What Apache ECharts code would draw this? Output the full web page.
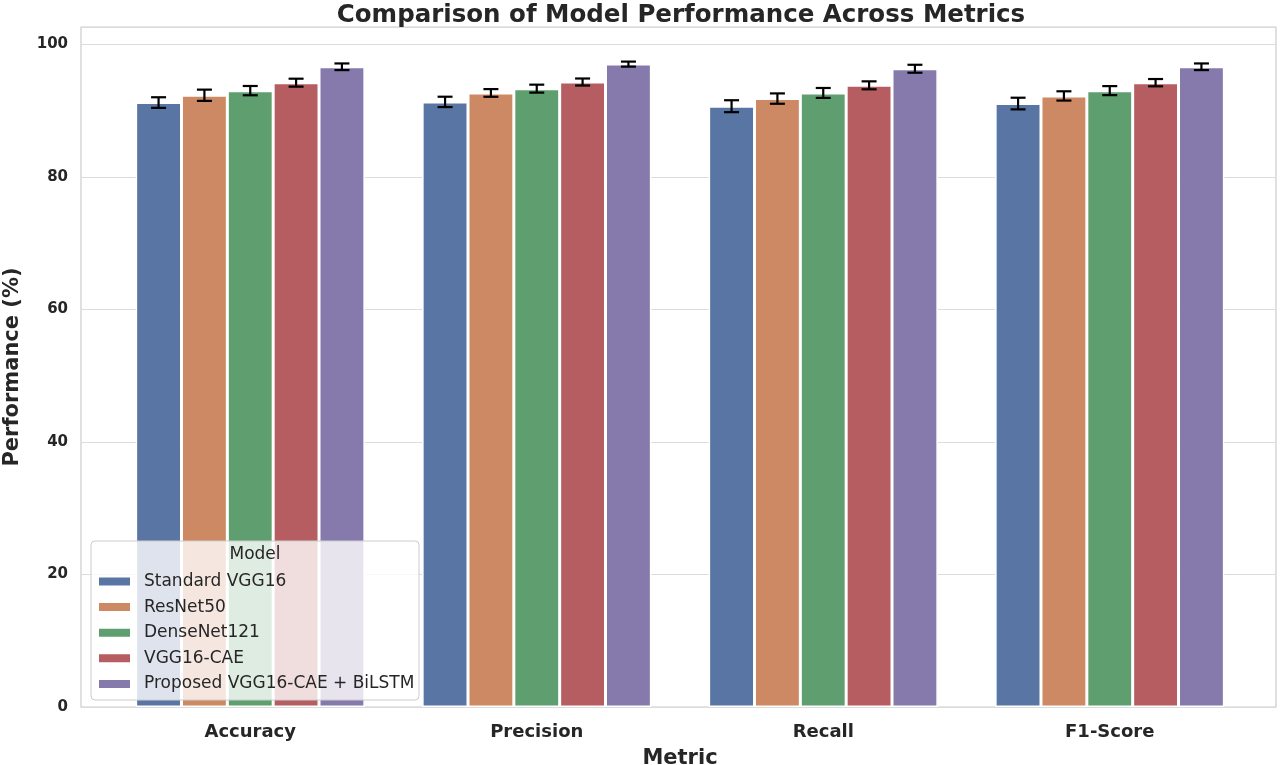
<!DOCTYPE html>
<html>
<head>
<meta charset="utf-8">
<script src="https://cdn.jsdelivr.net/npm/echarts@6/dist/echarts.min.js"></script>
<style>html,body{margin:0;padding:0;background:#fff}#c{width:1280px;height:765px}</style>
</head>
<body>
<div id="c"></div>
<script>
const categories = ['Accuracy', 'Precision', 'Recall', 'F1-Score'];
const models = ['Standard VGG16', 'ResNet50', 'DenseNet121', 'VGG16-CAE', 'Proposed VGG16-CAE + BiLSTM'];
const vgg16 = [91.2, 91.3, 90.65, 91.05];
const resnet50 = [92.3, 92.65, 91.8, 92.2];
const densenet121 = [93.0, 93.3, 92.65, 93.0];
const vgg16cae = [94.2, 94.3, 93.8, 94.2];
const proposed = [96.6, 97.0, 96.3, 96.6];
const vgg16Err = [0.8, 0.78, 0.9, 0.88];
const resnet50Err = [0.85, 0.58, 0.78, 0.7];
const densenet121Err = [0.7, 0.6, 0.75, 0.68];
const vgg16caeErr = [0.6, 0.53, 0.6, 0.55];
const proposedErr = [0.5, 0.38, 0.6, 0.5];
const yTicks = [0, 20, 40, 60, 80, 100];

const colors = ['#5975a4', '#cc8963', '#5f9e6e', '#b55d60', '#857aab'];
const values = [vgg16, resnet50, densenet121, vgg16cae, proposed];
const errs = [vgg16Err, resnet50Err, densenet121Err, vgg16caeErr, proposedErr];
const FONT = 'DejaVu Sans';
const YMAX = 102.6;

const barSeries = models.map((m, i) => ({
  name: m,
  type: 'bar',
  xAxisIndex: 1,
  yAxisIndex: 1,
  data: values[i],
  barWidth: '16%',
  barGap: '0%',
  itemStyle: { color: colors[i], borderColor: '#ffffff', borderWidth: 1.5 },
  emphasis: { disabled: true },
  z: 2
}));

const errData = [];
models.forEach((m, i) => {
  categories.forEach((c, j) => {
    errData.push([j, i, values[i][j], errs[i][j]]);
  });
});

const errSeries = {
  type: 'custom',
  xAxisIndex: 1,
  yAxisIndex: 1,
  data: errData,
  encode: { x: 0, y: 2 },
  z: 4,
  silent: true,
  renderItem: function (params, api) {
    const cat = api.value(0), mi = api.value(1), v = api.value(2), e = api.value(3);
    const catW = api.size([1, 0])[0];
    const base = api.coord([cat, v]);
    const x = base[0] + (mi - 2) * catW * 0.16;
    const yTop = api.coord([cat, v + e])[1];
    const yBot = api.coord([cat, v - e])[1];
    const hw = 7.5;
    const st = { stroke: '#000', lineWidth: 2.2 };
    return {
      type: 'group',
      children: [
        { type: 'line', shape: { x1: x, y1: yTop, x2: x, y2: yBot }, style: st },
        { type: 'line', shape: { x1: x - hw, y1: yTop, x2: x + hw, y2: yTop }, style: st },
        { type: 'line', shape: { x1: x - hw, y1: yBot, x2: x + hw, y2: yBot }, style: st }
      ]
    };
  }
};

const chart = echarts.init(document.getElementById('c'), null, { renderer: 'canvas' });
chart.setOption({
  backgroundColor: '#ffffff',
  animation: false,
  textStyle: { fontFamily: FONT },
  title: {
    text: 'Comparison of Model Performance Across Metrics',
    left: 676, top: -2, textAlign: 'center',
    textStyle: { fontFamily: FONT, fontWeight: 'bold', fontSize: 24.5, color: '#262626' }
  },
  grid: [
    { left: 81, right: 4, top: 27, bottom: 58, show: true, borderColor: '#cccccc', borderWidth: 1.2, backgroundColor: 'transparent', outerBoundsMode: 'none', containLabel: false },
    { left: 107, right: 27, top: 27, bottom: 58, outerBoundsMode: 'none', containLabel: false }
  ],
  xAxis: [
    { type: 'value', gridIndex: 0, min: 0, max: 1, show: false },
    {
      type: 'category', gridIndex: 1, data: categories,
      axisLine: { show: false }, axisTick: { show: false },
      axisLabel: { fontFamily: FONT, fontWeight: 'bold', fontSize: 18, color: '#262626', margin: 16 },
      name: 'Metric', nameLocation: 'middle', nameGap: 41,
      nameTextStyle: { fontFamily: FONT, fontWeight: 'bold', fontSize: 21, color: '#262626' }
    }
  ],
  yAxis: [
    {
      type: 'value', gridIndex: 0, min: 0, max: YMAX, interval: 20,
      axisLine: { show: false }, axisTick: { show: false },
      splitLine: { show: true, lineStyle: { color: '#dcdcdc', width: 1.2 } },
      axisLabel: {
        fontFamily: FONT, fontWeight: 'bold', fontSize: 15, color: '#262626', margin: 13,
        formatter: function (v) { return yTicks.indexOf(v) >= 0 ? String(v) : ''; }
      },
      name: 'Performance (%)', nameLocation: 'middle', nameGap: 58,
      nameTextStyle: { fontFamily: FONT, fontWeight: 'bold', fontSize: 21, color: '#262626' }
    },
    { type: 'value', gridIndex: 1, min: 0, max: YMAX, show: false, splitLine: { show: false } }
  ],
  legend: {
    data: models,
    orient: 'vertical',
    left: 97, top: 573,
    itemWidth: 33, itemHeight: 10, itemGap: 8.6,
    icon: 'rect',
    padding: 0,
    selectedMode: false,
    z: 10,
    textStyle: { fontFamily: FONT, fontSize: 17, color: '#262626', padding: [0, 0, 0, 8] }
  },
  graphic: [
    {
      type: 'rect', z: 8,
      shape: { x: 91, y: 541, width: 328, height: 159, r: 4 },
      style: { fill: 'rgba(255,255,255,0.8)', stroke: '#cccccc', lineWidth: 1 }
    },
    {
      type: 'text', z: 9,
      x: 255, y: 555,
      style: { text: 'Model', font: '17px "DejaVu Sans"', fill: '#262626', textAlign: 'center', textVerticalAlign: 'middle' }
    }
  ],
  series: barSeries.concat([errSeries])
});
</script>
</body>
</html>
